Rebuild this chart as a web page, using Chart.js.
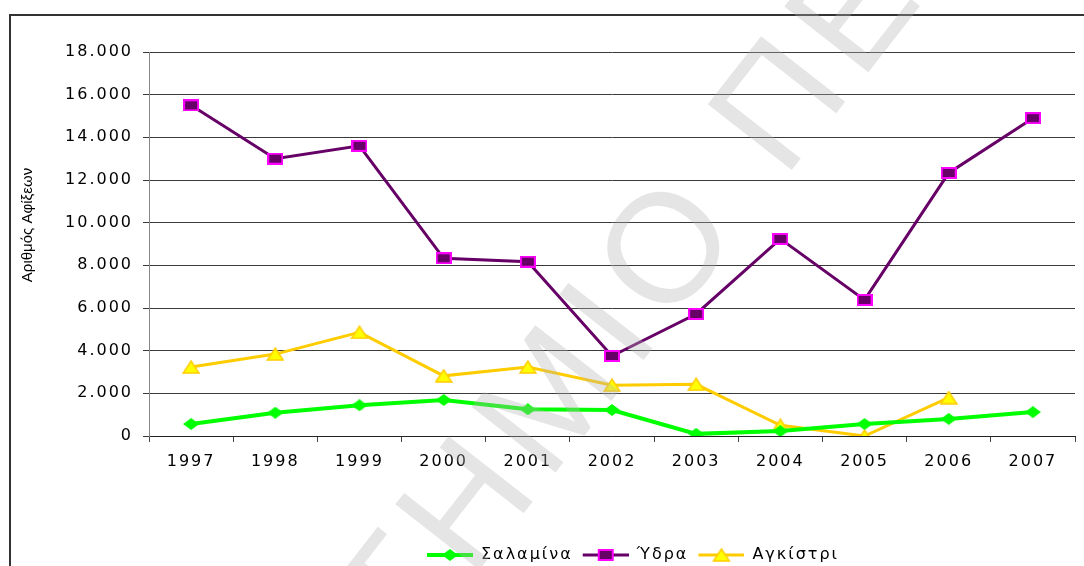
<!DOCTYPE html>
<html>
<head>
<meta charset="utf-8">
<script src="https://cdn.jsdelivr.net/npm/chart.js@4"></script>
<style>
  html, body { margin: 0; padding: 0; background: #fff; }
  canvas { display: block; }
</style>
</head>
<body>
<canvas id="arrivalsChart" width="1084" height="566"></canvas>
<script>
const years = ["1997", "1998", "1999", "2000", "2001", "2002", "2003", "2004", "2005", "2006", "2007"];
const seriesNames = ["Σαλαμίνα", "Ύδρα", "Αγκίστρι"];
const salamina = [560, 1090, 1440, 1690, 1250, 1220, 100, 230, 560, 800, 1120];
const ydra = [15500, 13000, 13600, 8330, 8170, 3750, 5720, 9240, 6380, 12330, 14900];
const agkistri = [3230, 3840, 4860, 2820, 3230, 2380, 2420, 500, 0, 1800, null];
const yMax = 18000;
const yStep = 2000;
const yTitle = "Αριθμός Αφίξεων";
const watermark = "ΠΑΝΕΠΙΣΤΗΜΙΟ ΠΕΙΡΑΙΑ";

function formatThousands(v) {
  return String(v).replace(/\B(?=(\d{3})+(?!\d))/g, ".");
}

// small canvases used as point markers
function makeMarker(kind) {
  const c = document.createElement("canvas");
  const ctx = c.getContext("2d");
  if (kind === "diamond") {
    c.width = 16; c.height = 12;
    ctx.fillStyle = "#00FF00";
    ctx.beginPath();
    ctx.moveTo(8, 0); ctx.lineTo(16, 6); ctx.lineTo(8, 12); ctx.lineTo(0, 6);
    ctx.closePath();
    ctx.fill();
  } else if (kind === "square") {
    c.width = 16; c.height = 12;
    ctx.fillStyle = "#FF00FF";
    ctx.fillRect(0, 0, 16, 12);
    ctx.fillStyle = "#660066";
    ctx.fillRect(2, 2, 12, 8);
  } else {
    c.width = 18; c.height = 14;
    ctx.fillStyle = "#FFFF00";
    ctx.strokeStyle = "#FFCC00";
    ctx.lineWidth = 1.5;
    ctx.beginPath();
    ctx.moveTo(9, 1); ctx.lineTo(17, 13); ctx.lineTo(1, 13);
    ctx.closePath();
    ctx.fill();
    ctx.stroke();
  }
  return c;
}

function makeLegendIcon(marker, color, width) {
  const c = document.createElement("canvas");
  c.width = 52; c.height = 14;
  const ctx = c.getContext("2d");
  ctx.strokeStyle = color;
  ctx.lineWidth = width;
  ctx.beginPath();
  ctx.moveTo(6, 7);
  ctx.lineTo(52, 7);
  ctx.stroke();
  ctx.drawImage(marker, 29 - marker.width / 2, 7 - marker.height / 2);
  return c;
}

const diamond = makeMarker("diamond");
const square = makeMarker("square");
const triangle = makeMarker("triangle");
const legendIcons = [
  makeLegendIcon(diamond, "#00FF00", 4),
  makeLegendIcon(square, "#660066", 3),
  makeLegendIcon(triangle, "#FFCC00", 3),
];

const decor = {
  id: "decor",
  beforeUpdate(chart) {
    chart.ctx.letterSpacing = "2px";
  },
  beforeDraw(chart) {
    chart.ctx.letterSpacing = "2px";
  },
  afterLayout(chart) {
    const lg = chart.legend;
    const dx = 630 - (lg.left + lg.right) / 2;
    lg.left += dx;
    lg.right += dx;
    const dy = 543 - lg.top;
    lg.top += dy;
    lg.bottom += dy;
  },
  afterDraw(chart) {
    const ctx = chart.ctx;
    ctx.save();
    ctx.letterSpacing = "0px";

    // y axis title
    ctx.save();
    ctx.translate(28, 225);
    ctx.rotate(-Math.PI / 2);
    ctx.font = "15px 'Liberation Sans'";
    ctx.fillStyle = "#000";
    ctx.textAlign = "center";
    ctx.textBaseline = "middle";
    ctx.fillText(yTitle, 0, 0);
    ctx.restore();

    // outer frame
    ctx.strokeStyle = "#333";
    ctx.lineWidth = 2;
    ctx.strokeRect(10, 15, 1200, 700);

    // watermark
    ctx.save();
    ctx.translate(672, 254);
    ctx.rotate(-52 * Math.PI / 180);
    ctx.font = "155px 'Liberation Sans'";
    ctx.letterSpacing = "12px";
    ctx.fillStyle = "rgba(180,180,180,0.34)";
    ctx.textBaseline = "middle";
    ctx.textAlign = "left";
    const idx = watermark.indexOf("Ο ");
    const before = watermark.slice(0, idx);
    const oW = ctx.measureText("Ο").width - 12;
    const startX = -ctx.measureText(before).width - oW / 2;
    ctx.fillText(watermark, startX, 0);
    ctx.restore();

    ctx.restore();
  },
};

const ctx = document.getElementById("arrivalsChart").getContext("2d");
const arrivalsChart = new Chart(ctx, {
  type: "line",
  data: {
    labels: years,
    datasets: [
      {
        label: seriesNames[0],
        data: salamina,
        borderColor: "#00FF00",
        borderWidth: 4,
        pointStyle: diamond,
      },
      {
        label: seriesNames[1],
        data: ydra,
        borderColor: "#660066",
        borderWidth: 3,
        pointStyle: square,
      },
      {
        label: seriesNames[2],
        data: agkistri,
        borderColor: "#FFCC00",
        borderWidth: 3,
        pointStyle: triangle,
      },
    ],
  },
  options: {
    responsive: false,
    animation: false,
    events: [],
    tension: 0,
    layout: {
      padding: { left: 18, right: 9, top: 52, bottom: 0 },
    },
    scales: {
      x: {
        offset: true,
        afterFit: (scale) => {
          scale.height = scale.chart.height - scale.chart.legend.height - 436;
        },
        grid: {
          display: true,
          drawOnChartArea: false,
          drawTicks: true,
          tickLength: 6,
          offset: true,
          color: "#444",
        },
        border: { color: "#222", width: 1 },
        ticks: {
          color: "#000",
          padding: 10,
          maxRotation: 0,
          font: { family: "DejaVu Sans", size: 16 },
        },
      },
      y: {
        min: 0,
        max: yMax,
        afterFit: (scale) => {
          scale.width = 131;
        },
        grid: {
          color: "#3a3a3a",
          tickLength: 6,
        },
        border: { color: "#888", width: 1 },
        ticks: {
          stepSize: yStep,
          color: "#000",
          padding: 10,
          font: { family: "DejaVu Sans", size: 16 },
          callback: function (value) {
            return formatThousands(value);
          },
        },
      },
    },
    plugins: {
      tooltip: { enabled: false },
      legend: {
        position: "bottom",
        labels: {
          usePointStyle: true,
          pointStyleWidth: 52,
          boxHeight: 14,
          padding: 4,
          color: "#000",
          font: { family: "DejaVu Sans", size: 16 },
          generateLabels: function (chart) {
            const items = Chart.defaults.plugins.legend.labels.generateLabels(chart);
            items.forEach((item, i) => {
              item.pointStyle = legendIcons[i];
              item.lineWidth = 0;
            });
            return items;
          },
        },
      },
    },
  },
  plugins: [decor],
});
</script>
</body>
</html>
